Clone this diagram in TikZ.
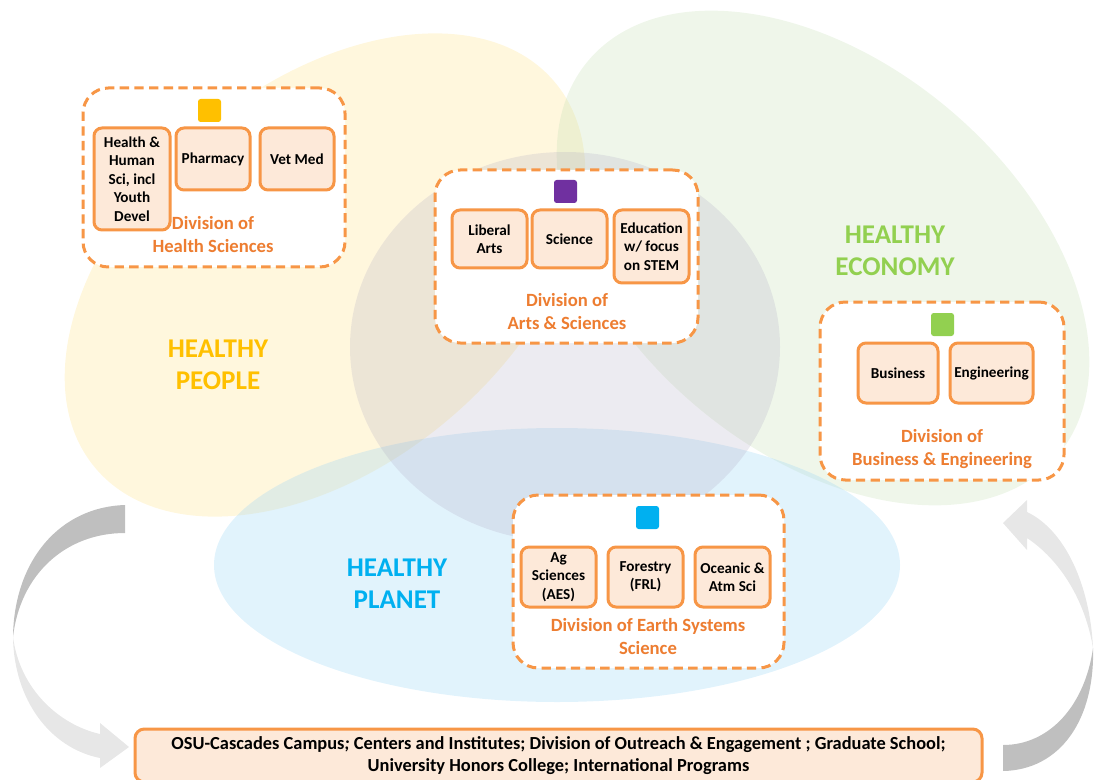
\documentclass[tikz,border=0pt]{standalone}
\usepackage{fontspec}
\setmainfont{Carlito}
\definecolor{boxorange}{RGB}{247,150,70}
\definecolor{divorange}{RGB}{237,125,49}
\definecolor{peach}{RGB}{253,233,217}
\definecolor{cyellow}{RGB}{255,192,0}
\definecolor{cpurple}{RGB}{112,48,160}
\definecolor{cgreen}{RGB}{146,208,80}
\definecolor{cblue}{RGB}{0,176,240}
\definecolor{blobyellow}{RGB}{255,230,153}
\definecolor{blobgreen}{RGB}{197,224,180}
\definecolor{blobblue}{RGB}{156,214,245}
\definecolor{blobgrey}{RGB}{170,165,190}
\definecolor{arrdark}{RGB}{191,191,191}
\definecolor{arrlight}{RGB}{231,231,231}
\begin{document}
\begin{tikzpicture}[x=0.75pt,y=-0.75pt,
  divbox/.style={draw=boxorange, line width=2.25pt, dash pattern=on 7pt off 4pt, fill=white, rounded corners=19pt},
  unitbox/.style={draw=boxorange, line width=2.25pt, fill=peach, rounded corners=6pt, align=center, inner sep=1pt,
     font=\bfseries\fontsize{11.4}{13.8}\selectfont},
  sq/.style={minimum size=17.25pt, inner sep=0pt, rounded corners=2pt},
  divlabel/.style={text=divorange, align=center, font=\bfseries\fontsize{14}{17.25}\selectfont},
  healthy/.style={align=center, font=\bfseries\fontsize{20.3}{24}\selectfont}]
\useasboundingbox (0,0) rectangle (1094,780);
% background blobs
\fill[blobyellow, opacity=0.33, rotate around={40:(325,275)}] (325,275) ellipse [x radius=225pt, y radius=142.5pt];
\fill[blobgreen, opacity=0.28, rotate around={-40:(823,258)}] (823,258) ellipse [x radius=230pt, y radius=146.25pt];
\fill[blobblue, opacity=0.3] (557,565) ellipse [x radius=257.25pt, y radius=102.75pt];
\fill[blobgrey, opacity=0.22] (565,347) ellipse [x radius=161.25pt, y radius=146.25pt];
% curved arrows
\fill[arrdark] (125,505) .. controls (60,507) and (14,560) .. (13,637)
   .. controls (20,575) and (65,533) .. (125,533) -- cycle;
\fill[arrlight] (13,637) .. controls (14,700) and (50,748) .. (100,758) -- (100,768) -- (129,747) -- (100,723) -- (100,734)
   .. controls (60,725) and (20,690) .. (13,637) -- cycle;
\fill[arrdark] (1003,771) .. controls (1060,770) and (1095,720) .. (1093,648)
   .. controls (1085,705) and (1050,745) .. (1003,745) -- cycle;
\fill[arrlight] (1093,648) .. controls (1090,585) and (1065,530) .. (1027,512) -- (1027,500) -- (1003,523) -- (1027,550) -- (1027,538)
   .. controls (1060,560) and (1085,600) .. (1093,648) -- cycle;
% healthy labels
\node[healthy, text=cyellow] (hpeople) at (218,365) {HEALTHY\\PEOPLE};
\node[healthy, text=cgreen] (hecon) at (895,250.5) {HEALTHY\\ECONOMY};
\node[healthy, text=cblue] (hplanet) at (397,583.5) {HEALTHY\\PLANET};
% Health Sciences
\node[divbox, minimum width=196.5pt, minimum height=134.25pt] (dhs) at (214,177.5) {};
\node[sq, fill=cyellow] (sqhs) at (209.5,110.5) {};
\node[unitbox, minimum width=57pt, minimum height=76.5pt] (hhs) at (132,179) {Health \&\\Human\\Sci, incl\\Youth\\Devel};
\node[unitbox, minimum width=55.5pt, minimum height=46.5pt] (pharm) at (213,159) {Pharmacy};
\node[unitbox, minimum width=55.5pt, minimum height=46.5pt] (vet) at (297,159) {Vet Med};
\node[divlabel] (lhs) at (213,234.5) {Division of\\Health Sciences};
% Arts & Sciences
\node[divbox, minimum width=197.25pt, minimum height=129.75pt] (das) at (566.5,256.5) {};
\node[sq, fill=cpurple] (sqas) at (565.5,191.5) {};
\node[unitbox, minimum width=56.25pt, minimum height=43.5pt] (lib) at (489.5,239) {Liberal\\Arts};
\node[unitbox, minimum width=56.25pt, minimum height=43.5pt] (sci) at (569.5,239) {Science};
\node[unitbox, minimum width=56.25pt, minimum height=54.75pt] (edu) at (651.5,246.5) {Education\\w/ focus\\on STEM};
\node[divlabel] (las) at (567,312) {Division of\\Arts \& Sciences};
% Business & Engineering
\node[divbox, minimum width=183pt, minimum height=133.5pt] (dbe) at (942,391) {};
\node[sq, fill=cgreen] (sqbe) at (942.5,324.5) {};
\node[unitbox, minimum width=60pt, minimum height=45pt] (bus) at (898,373) {Business};
\node[unitbox, minimum width=62.25pt, minimum height=45pt] (eng) at (991.5,373) {Engineering};
\node[divlabel] (lbe) at (942,449.5) {Division of\\Business \& Engineering};
% Earth Systems Science
\node[divbox, minimum width=203.25pt, minimum height=129.75pt] (des) at (648.5,581.5) {};
\node[sq, fill=cblue] (sqes) at (647.5,517.5) {};
\node[unitbox, minimum width=56.25pt, minimum height=45pt] (ag) at (558.5,577) {Ag\\Sciences\\(AES)};
\node[unitbox, minimum width=56.25pt, minimum height=45pt] (for) at (645.5,577) {Forestry\\(FRL)};
\node[unitbox, minimum width=56.25pt, minimum height=45pt] (oce) at (732.5,577) {Oceanic \&\\Atm Sci};
\node[divlabel] (les) at (648,637) {Division of Earth Systems\\Science};
% bottom box
\node[unitbox, rounded corners=7pt, minimum width=635.25pt, minimum height=39.75pt,
  font=\bfseries\fontsize{13.8}{16.5}\selectfont] (bottom) at (558.5,755.5)
  {OSU-Cascades Campus\textit{;} Centers and Institutes; Division of Outreach \& Engagement ; Graduate School;\\University Honors College; International Programs};
\end{tikzpicture}
\end{document}
